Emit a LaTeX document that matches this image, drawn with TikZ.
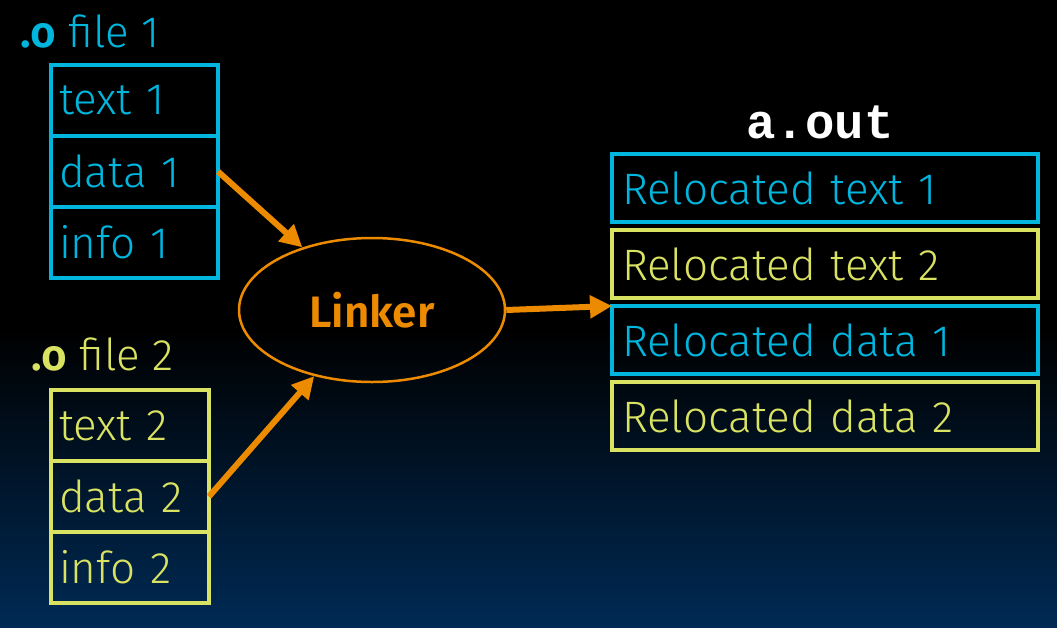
\documentclass[tikz,border=0pt]{standalone}
\usepackage{fontspec}
\setmainfont{Fira Sans}[UprightFont=* Light, BoldFont=* SemiBold]
\newfontfamily\codefont{Liberation Mono}
\usetikzlibrary{positioning,shapes.geometric,arrows.meta}
\definecolor{objcyan}{RGB}{0,182,222}
\definecolor{objyellow}{RGB}{218,226,98}
\definecolor{linkorange}{RGB}{236,138,0}
\definecolor{bgnavy}{RGB}{0,42,84}
\tikzset{
  >={Triangle[length=22pt,width=22pt]},
  cell/.style={draw, line width=4pt, outer sep=0pt, minimum height=71pt,
               inner xsep=8pt, text width=#1, align=left, anchor=north west,
               font=\fontsize{44}{48}\selectfont},
  seg/.style={draw, line width=4pt, outer sep=0pt, minimum height=68pt,
              inner xsep=10pt, text width=406pt, align=left, anchor=north west,
              font=\fontsize{44}{48}\selectfont},
  title/.style={anchor=base west, inner sep=0pt, font=\fontsize{44}{48}\selectfont},
  linker/.style={ellipse, draw=linkorange, line width=2.5pt, minimum width=266pt,
                 minimum height=144pt, inner sep=0pt, text=linkorange,
                 font=\fontsize{44}{48}\selectfont\bfseries},
  link/.style={->, draw=linkorange, line width=6pt}
}

\begin{document}
\begin{tikzpicture}[x=1pt,y=-1pt]
  \useasboundingbox (0,0) rectangle (1057,627);

  % Draw background.
  \fill[black] (0,0) rectangle (1057,627);
  \shade[top color=black, bottom color=bgnavy] (0,330) rectangle (1057,627);

  % First object file.
  \node[title, objcyan] (f1) at (20,47) {\textbf{.o} file 1};
  \node[cell=151pt, draw=objcyan, text=objcyan] (t1) at (51,65) {text 1};
  \node[cell=151pt, draw=objcyan, text=objcyan, below=0pt of t1] (d1) {data 1};
  \node[cell=151pt, draw=objcyan, text=objcyan, below=0pt of d1] (i1) {info 1};

  % Second object file.
  \node[title, objyellow] (f2) at (31,370) {\textbf{.o} file 2};
  \node[cell=142pt, draw=objyellow, text=objyellow] (t2) at (51,390) {text 2};
  \node[cell=142pt, draw=objyellow, text=objyellow, below=0pt of t2] (d2) {data 2};
  \node[cell=142pt, draw=objyellow, text=objyellow, below=0pt of d2] (i2) {info 2};

  % Linker in the middle.
  \node[linker] (lnk) at (372,310) {Linker};

  % Executable.
  \node[anchor=base, text=white, font=\fontsize{49}{52}\selectfont\codefont\bfseries]
    (aout) at (820,138) {a.out};
  \node[seg, draw=objcyan, text=objcyan] (r1) at (612,154) {Relocated text 1};
  \node[seg, draw=objyellow, text=objyellow, below=8pt of r1] (r2) {Relocated text 2};
  \node[seg, draw=objcyan, text=objcyan, below=8pt of r2] (r3) {Relocated data 1};
  \node[seg, draw=objyellow, text=objyellow, below=8pt of r3] (r4) {Relocated data 2};

  % Arrows.
  \draw[link] (d1.east) -- (lnk);
  \draw[link] (d2.east) -- (lnk);
  \draw[link] (lnk.east) -- (r3.north west);
\end{tikzpicture}
\end{document}
